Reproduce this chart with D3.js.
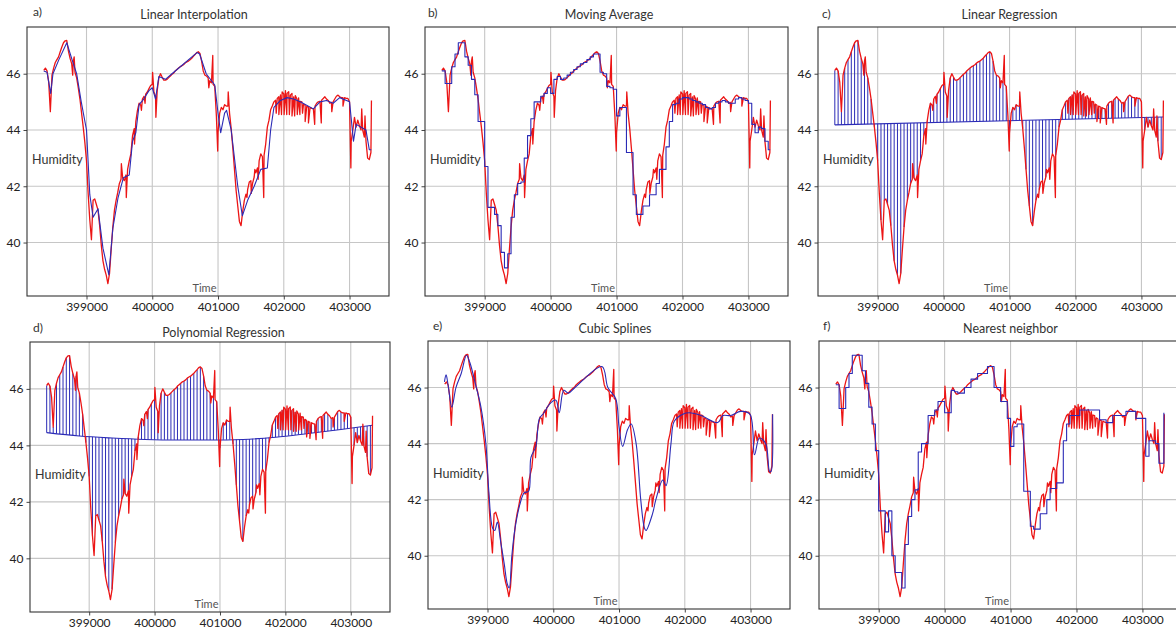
<!DOCTYPE html>
<html>
<head>
<meta charset="utf-8">
<script src="https://cdn.jsdelivr.net/npm/d3@7"></script>
<style>
  body { margin: 0; background: #fff; }
  svg { display: block; }
  text { font-family: Lato, "Open Sans", "DejaVu Sans", sans-serif; }
</style>
</head>
<body>
<svg id="chart" width="1176" height="633"></svg>
<script>
// ---------------- DATA ----------------
// Raw humidity series (red), one regular reading every 25 time units starting at 398350
const timeStart = 398350;
const timeStep = 25;
const humidity = [
  46.12, 46.2, 46.1, 45.7, 44.65, 45.95, 46.2, 46.4, 46.5, 46.6,
  46.78, 46.95, 47.1, 47.17, 47.18, 46.8, 46.55, 46.35, 46.45, 46.05,
  45.85, 45.5, 45.1, 44.6, 44.1, 43.55, 42.9, 41.74, 40.8, 40.1,
  41.5, 41.55, 41.35, 41.15, 40.6, 39.9, 39.35, 39.05, 38.84, 38.54,
  38.9, 39.75, 40.55, 41.15, 41.5, 41.78, 42.1, 42.25, 42.3, 42.2,
  42.4, 42.6, 42.9, 43.15, 43.8, 44.05, 44.3, 44.7, 44.95, 44.88,
  45.1, 45.2, 45.27, 45.35, 45.47, 45.58, 45.62, 45.35, 45.2, 45.4,
  45.85, 46.0, 45.88, 45.77, 45.77, 45.8, 45.86, 45.92, 45.98, 46.02,
  46.1, 46.15, 46.2, 46.25, 46.28, 46.32, 46.38, 46.42, 46.45, 46.5,
  46.55, 46.62, 46.68, 46.75, 46.78, 46.72, 46.45, 46.1, 45.95, 45.92,
  45.85, 45.75, 45.68, 45.62, 45.55, 44.5, 43.9, 44.6, 44.8, 44.72,
  44.9, 44.85, 44.85, 44.6, 44.05, 43.35, 42.6, 41.85, 41.3, 40.75,
  40.6, 41.1, 41.5, 41.72, 41.88, 42.15, 42.2, 42.1, 42.33, 42.48,
  42.65, 42.9, 43.15, 43.05, 43.1, 43.5, 44.1, 44.35, 44.72, 44.85,
  45.0, 45.06, 45.12, 45.18, 45.25, 45.35, 45.28, 45.4, 45.3, 45.36,
  45.24, 45.3, 45.18, 45.22, 45.1, 45.14, 45.02, 45.0, 44.92, 44.88,
  44.85, 44.82, 44.8, 44.77, 44.75, 44.85, 44.95, 45.0, 45.02, 45.06,
  45.12, 45.18, 45.1, 45.05, 44.95, 44.98, 45.0, 45.1, 45.2, 45.24,
  45.18, 45.15, 45.15, 45.15, 45.12, 45.12, 45.0, 43.6, 44.0, 44.45,
  44.1, 44.35, 44.15, 44.0, 44.0, 43.75, 43.6, 43.0, 42.95, 43.2
];
// Isolated sensor spikes between the regular readings (red)
const spikeTimes = [
  398790, 398812, 399530, 399605, 399730, 399835, 399890, 400005, 400055, 400860,
  400920, 400995, 401155, 401440, 401505, 401560, 401610, 401695, 401885, 401925,
  401965, 402005, 402045, 402085, 402125, 402165, 402205, 402245, 402285, 402325,
  402375, 402470, 402570, 402730, 402900, 403020, 403185, 403235, 403333
];
const spikeValues = [
  45.95, 46.6, 42.8, 41.6, 43.5, 44.7, 44.95, 46.05, 44.45, 45.5,
  46.65, 43.25, 45.35, 41.6, 41.75, 42.6, 42.25, 41.6, 44.6, 44.55,
  44.55, 44.55, 44.55, 44.55, 44.5, 44.5, 44.55, 44.55, 44.6, 44.3,
  44.25, 44.2, 44.25, 44.65, 44.85, 42.65, 44.75, 44.5, 45.05
];

// a) Linear interpolation (blue) anchor points
const interpTimes = [
  398350, 398400, 398455, 398490, 398580, 398700, 398780, 398850, 398920, 399000,
  399050, 399100, 399175, 399250, 399340, 399400, 399480, 399560, 399650, 399700,
  399750, 399800, 399870, 399950, 400000, 400050, 400100, 400200, 400300, 400680,
  400720, 400820, 400950, 401000, 401040, 401100, 401130, 401200, 401300, 401370,
  401450, 401550, 401650, 401750, 401800, 401850, 401950, 402050, 402150, 402250,
  402450, 402550, 402650, 402750, 402850, 403000, 403060, 403100, 403250, 403300, 403330
];
const interpValues = [
  46.1, 46.05, 45.3, 46.0, 46.5, 47.1, 46.5, 46.0, 45.0, 44.0,
  41.7, 40.9, 41.2, 39.8, 38.85, 40.5, 41.6, 42.3, 42.4, 43.6,
  43.9, 44.9, 45.1, 45.4, 45.5, 45.1, 45.9, 45.8, 46.0, 46.75,
  46.7, 46.0, 45.6, 44.6, 43.9, 44.6, 44.7, 44.0, 42.0, 40.95,
  41.5, 42.0, 42.6, 42.65, 44.0, 44.8, 45.05, 45.15, 45.1, 45.0,
  44.75, 45.0, 45.05, 44.95, 45.15, 45.0, 43.6, 44.2, 44.0, 43.3, 43.3
];

// b) Moving average (blue), step levels every 50 time units from 398350
const stepWidth = 50;
const movingAvg = [
  46.1, 45.65, 45.65, 46.25, 46.7, 47.1, 47.1, 46.6, 46.3, 45.8,
  45.25, 44.3, 44.3, 42.7, 41.25, 41.25, 41.0, 40.6, 39.65, 39.1,
  39.6, 40.9, 41.7, 42.1, 42.15, 43.0, 43.8, 44.4, 45.0, 45.0,
  45.2, 45.3, 45.5, 45.3, 45.8, 45.9, 45.8, 45.85, 45.95, 46.05,
  46.15, 46.25, 46.35, 46.4, 46.5, 46.6, 46.7, 46.7, 46.05, 46.0,
  45.55, 45.5, 45.45, 44.5, 44.8, 44.8, 43.2, 43.2, 41.7, 41.0,
  41.0, 41.3, 41.3, 41.7, 41.7, 42.1, 42.6, 42.6, 43.4, 44.3,
  44.9, 44.95, 45.1, 45.15, 45.15, 45.1, 45.05, 45.0, 44.95, 44.9,
  44.8, 44.75, 44.8, 44.95, 45.0, 45.05, 45.0, 44.95, 44.95, 45.1,
  45.15, 45.1, 45.05, 44.95, 44.2, 43.9, 44.1, 44.05, 43.6, 43.3
];
const movingAvgEnd = [403330, 43.3];

// c) Linear regression fit (end points)
const regressionTimes = [398350, 403330];
const regressionValues = [44.18, 44.46];

// d) Polynomial regression fit
const polyTimes = [398350, 398850, 399350, 399850, 400350, 400850, 401350, 401850, 402350, 402850, 403330];
const polyValues = [44.45, 44.33, 44.26, 44.21, 44.19, 44.19, 44.21, 44.29, 44.42, 44.56, 44.71];

// Every second regular reading is a gap filled by the regression models (stems)
const gapEvery = 2;

// e) Cubic spline (blue) knots
const splineTimes = [
  398345, 398370, 398400, 398457, 398520, 398600, 398680, 398730, 398830, 398900,
  398975, 399020, 399075, 399110, 399150, 399200, 399255, 399300, 399330, 399370,
  399420, 399500, 399560, 399625, 399660, 399735, 399790, 399860, 399940, 400040,
  400090, 400160, 400230, 400330, 400740, 400830, 400950, 401000, 401055, 401130,
  401185, 401260, 401330, 401385, 401410, 401510, 401560, 401665, 401715, 401790,
  401840, 401970, 402070, 402250, 402500, 402580, 402700, 402850, 402990, 403060,
  403135, 403230, 403290, 403310, 403335
];
const splineValues = [
  46.2, 46.45, 46.1, 45.3, 46.0, 46.5, 47.15, 46.9, 46.0, 45.3,
  44.0, 42.3, 41.0, 40.9, 41.2, 40.5, 39.7, 39.0, 38.85, 40.0,
  41.0, 41.9, 42.25, 42.3, 43.5, 43.9, 44.9, 45.1, 45.4, 45.55,
  45.1, 45.9, 45.8, 46.0, 46.75, 46.0, 45.6, 44.6, 43.9, 44.5,
  44.7, 44.0, 42.0, 41.0, 40.9, 41.5, 42.0, 42.7, 42.5, 44.0,
  44.8, 45.05, 45.1, 45.0, 44.75, 45.0, 45.0, 45.15, 45.05, 43.6,
  44.2, 44.0, 43.0, 43.0, 45.05
];

// f) Nearest neighbor (blue), step levels every 50 time units from 398350
const nearest = [
  46.1, 45.25, 45.25, 46.0, 46.5, 47.15, 47.15, 47.15, 46.6, 46.15,
  45.3, 44.7, 43.75, 41.6, 41.6, 40.85, 41.6, 40.0, 39.4, 39.4,
  38.85, 40.4, 41.4, 42.0, 42.35, 43.7, 44.0, 44.0, 45.0, 45.0,
  45.2, 45.5, 45.5, 45.1, 45.1, 45.9, 45.85, 45.8, 45.8, 46.0,
  46.0, 46.3, 46.3, 46.5, 46.5, 46.5, 46.75, 46.75, 46.0, 46.0,
  45.5, 45.5, 44.9, 43.9, 44.6, 44.7, 44.7, 42.3, 42.3, 41.05,
  40.95, 40.95, 41.5, 41.5, 42.0, 42.4, 42.4, 42.6, 42.6, 44.1,
  44.7, 45.0, 45.0, 45.0, 45.2, 45.2, 45.2, 45.2, 45.2, 45.2,
  44.85, 44.85, 44.75, 44.75, 45.0, 45.0, 45.0, 45.0, 45.15, 45.15,
  45.15, 44.9, 44.9, 44.9, 43.55, 44.1, 44.1, 44.0, 43.3, 43.3
];
const nearestEnd = [403325, 45.1];

// Axes
const xTicks = [399000, 400000, 401000, 402000, 403000];
const yTicks = [40, 42, 44, 46];
const xDomain = [398095, 403600];
const yDomain = [38.1, 47.66];

const panelLabels = ["a)", "b)", "c)", "d)", "e)", "f)"];
const panelTitles = ["Linear Interpolation", "Moving Average", "Linear Regression",
                     "Polynomial Regression", "Cubic Splines", "Nearest neighbor"];
const panelKinds = ["interp", "ma", "lr", "poly", "spline", "nn"];
const yLabel = "Humidity";
const xLabel = "Time";

// ---------------- LAYOUT ----------------
const layout = [
  { box: [27, 27, 389, 296],   titleX: 194,    titleY: 18.5,  labelX: 33,  labelY: 15.5 },
  { box: [425, 27, 788, 296],  titleX: 609,    titleY: 18.5,  labelX: 428, labelY: 17 },
  { box: [818, 27, 1181, 296], titleX: 1009.5, titleY: 18.5,  labelX: 822, labelY: 17.5 },
  { box: [30, 342, 390, 612],  titleX: 223.5,  titleY: 336.5, labelX: 33,  labelY: 332 },
  { box: [428, 341, 790, 609], titleX: 615,    titleY: 333,   labelX: 433, labelY: 330 },
  { box: [819, 341, 1182, 609],titleX: 1010.5, titleY: 333,   labelX: 823, labelY: 330 }
];

const RED = "#ec1515";
const BLUE = "#2b2bb6";

const svg = d3.select("#chart");
const regularPts = humidity.map((v, i) => [timeStart + i * timeStep, v]);
const spikePts = spikeTimes.map((t, i) => [t, spikeValues[i]]);
const redPts = regularPts.concat(spikePts).sort((a, b) => a[0] - b[0]);
const stepTimes = d3.range(movingAvg.length).map(k => timeStart + k * stepWidth);

panelKinds.forEach((kind, p) => {
  const L = layout[p];
  const [x0, y0, x1, y1] = L.box;
  const w = x1 - x0, h = y1 - y0;
  const x = d3.scaleLinear().domain(xDomain).range([0, w]);
  const y = d3.scaleLinear().domain(yDomain).range([h, 0]);

  const g = svg.append("g").attr("transform", `translate(${x0},${y0})`);
  const clipId = "clip" + p;
  g.append("clipPath").attr("id", clipId).append("rect").attr("width", w).attr("height", h);

  // grid
  g.append("g").selectAll("line").data(xTicks).join("line")
    .attr("x1", d => x(d)).attr("x2", d => x(d)).attr("y1", 0).attr("y2", h)
    .attr("stroke", "#c6c6c6").attr("stroke-width", 1.1);
  g.append("g").selectAll("line").data(yTicks).join("line")
    .attr("x1", 0).attr("x2", w).attr("y1", d => y(d)).attr("y2", d => y(d))
    .attr("stroke", "#c6c6c6").attr("stroke-width", 1.1);

  // axes
  const xa = g.append("g").attr("transform", `translate(0,${h})`)
    .call(d3.axisBottom(x).tickValues(xTicks).tickFormat(d3.format("d")).tickSize(3.5).tickPadding(3));
  const ya = g.append("g")
    .call(d3.axisLeft(y).tickValues(yTicks).tickFormat(d3.format("d")).tickSize(3.5).tickPadding(3));
  [xa, ya].forEach(a => {
    a.select(".domain").remove();
    a.selectAll(".tick line").attr("stroke", "#444");
    a.selectAll(".tick text").attr("fill", "#222").style("font-size", "12px")
      .style("font-family", "Lato, 'Open Sans', sans-serif");
  });

  const plot = g.append("g").attr("clip-path", `url(#${clipId})`);
  const lineGen = d3.line().x(d => x(d[0])).y(d => y(d[1]));

  const drawRed = () => plot.append("path").datum(redPts)
    .attr("d", lineGen).attr("fill", "none").attr("stroke", RED)
    .attr("stroke-width", 1.3).attr("stroke-linejoin", "round");

  const blue = (pts, curve) => plot.append("path").datum(pts)
    .attr("d", d3.line().x(d => x(d[0])).y(d => y(d[1])).curve(curve))
    .attr("fill", "none").attr("stroke", BLUE).attr("stroke-width", 1.1)
    .attr("stroke-linejoin", "round");

  const stems = (fit) => {
    const gaps = regularPts.filter((d, i) => i % gapEvery === 0);
    plot.append("g").selectAll("line").data(gaps).join("line")
      .attr("x1", d => x(d[0])).attr("x2", d => x(d[0]))
      .attr("y1", d => y(fit(d[0]))).attr("y2", d => y(d[1]))
      .attr("stroke", BLUE).attr("stroke-width", 1);
  };

  if (kind === "interp") {
    drawRed();
    blue(interpTimes.map((t, i) => [t, interpValues[i]]), d3.curveLinear);
  } else if (kind === "ma") {
    drawRed();
    blue(stepTimes.map((t, i) => [t, movingAvg[i]]).concat([movingAvgEnd]), d3.curveStepAfter);
  } else if (kind === "lr") {
    const fit = d3.scaleLinear().domain(regressionTimes).range(regressionValues);
    stems(fit);
    blue(regressionTimes.map((t, i) => [t, regressionValues[i]]), d3.curveLinear);
    drawRed();
  } else if (kind === "poly") {
    const fit = d3.scaleLinear().domain(polyTimes).range(polyValues);
    stems(fit);
    blue(polyTimes.map((t, i) => [t, polyValues[i]]), d3.curveMonotoneX);
    drawRed();
  } else if (kind === "spline") {
    drawRed();
    blue(splineTimes.map((t, i) => [t, splineValues[i]]), d3.curveCatmullRom.alpha(0.5));
  } else if (kind === "nn") {
    drawRed();
    blue(stepTimes.map((t, i) => [t, nearest[i]]).concat([nearestEnd]), d3.curveStepAfter);
  }

  // frame
  g.append("rect").attr("width", w).attr("height", h)
    .attr("fill", "none").attr("stroke", "#333").attr("stroke-width", 1.1);

  // in-plot labels
  g.append("text").attr("x", 5).attr("y", 137).text(yLabel)
    .attr("fill", "#333").style("font-size", "12.5px");
  g.append("text").attr("x", w / 2 - 3.5).attr("y", h - 4.5).attr("text-anchor", "middle")
    .text(xLabel).attr("fill", "#555").style("font-size", "11px");

  // titles
  svg.append("text").attr("x", L.titleX).attr("y", L.titleY).attr("text-anchor", "middle")
    .text(panelTitles[p]).attr("fill", "#333").style("font-size", "12.5px");
  svg.append("text").attr("x", L.labelX).attr("y", L.labelY)
    .text(panelLabels[p]).attr("fill", "#333").style("font-size", "12px");
});
</script>
</body>
</html>
